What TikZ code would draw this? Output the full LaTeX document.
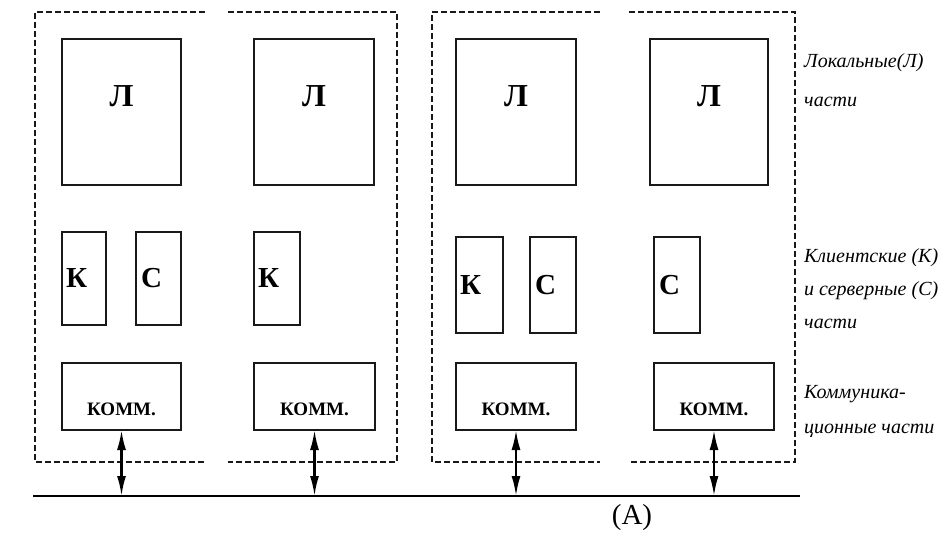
\documentclass[tikz,border=0pt]{standalone}
\usepackage{fontspec}
\setmainfont{Liberation Serif}
\usetikzlibrary{arrows.meta}
\begin{document}
\begin{tikzpicture}[x=1pt,y=-1pt,
  part/.style={draw=black!90, line width=2.2pt, rectangle, inner sep=0pt, outer sep=0pt, anchor=north west},
  lpart/.style={part, minimum width=119pt, minimum height=146pt},
  kspart/.style={part, minimum width=45pt, minimum height=93pt},
  cpart/.style={part, minimum width=120pt, minimum height=67pt},
  frame/.style={draw=black!90, line width=2pt, dash pattern=on 6pt off 3pt},
  bigletter/.style={font=\fontsize{32}{32}\selectfont\bfseries, inner sep=0pt},
  letter/.style={font=\fontsize{29}{29}\selectfont\bfseries, inner sep=0pt, anchor=west},
  commtext/.style={font=\fontsize{19}{19}\selectfont\bfseries, inner sep=0pt},
  note/.style={font=\fontsize{20}{#1}\selectfont\itshape, align=left, anchor=west, inner sep=0pt},
  link/.style={draw=black, line width=2.2pt, {Latex[length=20pt,width=9pt]}-{Latex[length=20pt,width=9pt]}},
]
\useasboundingbox (0,0) rectangle (944,534);

% dashed outlines of the two machines, each split into two processes
\draw[frame] (205,12) -- (35,12) -- (35,462) -- (205,462);
\draw[frame] (228,12) -- (397,12) -- (397,462) -- (228,462);
\draw[frame] (600,12) -- (432,12) -- (432,462) -- (600,462);
\draw[frame] (629,12) -- (795,12) -- (795,462) -- (629,462);

% local parts
\node[lpart] (l1) at (62,39) {};
\node[lpart, minimum width=120pt] (l2) at (254,39) {};
\node[lpart, minimum width=120pt] (l3) at (456,39) {};
\node[lpart, minimum width=118pt] (l4) at (650,39) {};
\node[bigletter] (l1t) at (l1.north |- 0,96) {Л};
\node[bigletter] (l2t) at (l2.north |- 0,96) {Л};
\node[bigletter] (l3t) at (l3.north |- 0,96) {Л};
\node[bigletter] (l4t) at (l4.north |- 0,96) {Л};

% client and server parts
\node[kspart, minimum width=44pt] (k1) at (62,232) {};
\node[kspart] (s1) at (136,232) {};
\node[kspart, minimum width=46pt] (k2) at (254,232) {};
\node[kspart, minimum width=47pt, minimum height=96pt] (k3) at (456,237) {};
\node[kspart, minimum width=46pt, minimum height=96pt] (s3) at (530,237) {};
\node[kspart, minimum width=46pt, minimum height=96pt] (s4) at (654,237) {};
\node[letter] (k1t) at ([xshift=4pt]k1.west) {К};
\node[letter] (s1t) at ([xshift=5pt]s1.west) {С};
\node[letter] (k2t) at ([xshift=4pt]k2.west) {К};
\node[letter] (k3t) at ([xshift=4pt]k3.west) {К};
\node[letter] (s3t) at ([xshift=5pt]s3.west) {С};
\node[letter] (s4t) at ([xshift=5pt]s4.west) {С};

% communication parts
\node[cpart, minimum width=119pt] (c1) at (62,363) {};
\node[cpart, minimum width=121pt] (c2) at (254,363) {};
\node[cpart] (c3) at (456,363) {};
\node[cpart] (c4) at (654,363) {};
\node[commtext] (c1t) at (c1.north |- 0,409) {КОММ.};
\node[commtext] (c2t) at (c2.north |- 0,409) {КОММ.};
\node[commtext] (c3t) at (c3.north |- 0,409) {КОММ.};
\node[commtext] (c4t) at (c4.north |- 0,409) {КОММ.};

% network bus
\coordinate (busL) at (33,496);
\coordinate (busR) at (800,496);
\draw[line width=2.2pt] (busL) -- (busR);
\draw[link] (c1.south) -- (c1.south |- busL);
\draw[link] (c2.south) -- (c2.south |- busL);
\draw[link] (c3.south) -- (c3.south |- busL);
\draw[link] (c4.south) -- (c4.south |- busL);

\node[font=\fontsize{29}{29}\selectfont, inner sep=0pt] (cap) at (632,518) {(A)};

% level captions
\node[note=39] (n1) at (804,80) {Локальные(Л)\\части};
\node[note=33] (n2) at (804,289) {Клиентские (К)\\и серверные (С)\\части};
\node[note=35] (n3) at (804,411) {Коммуника-\\ционные части};
\end{tikzpicture}
\end{document}
